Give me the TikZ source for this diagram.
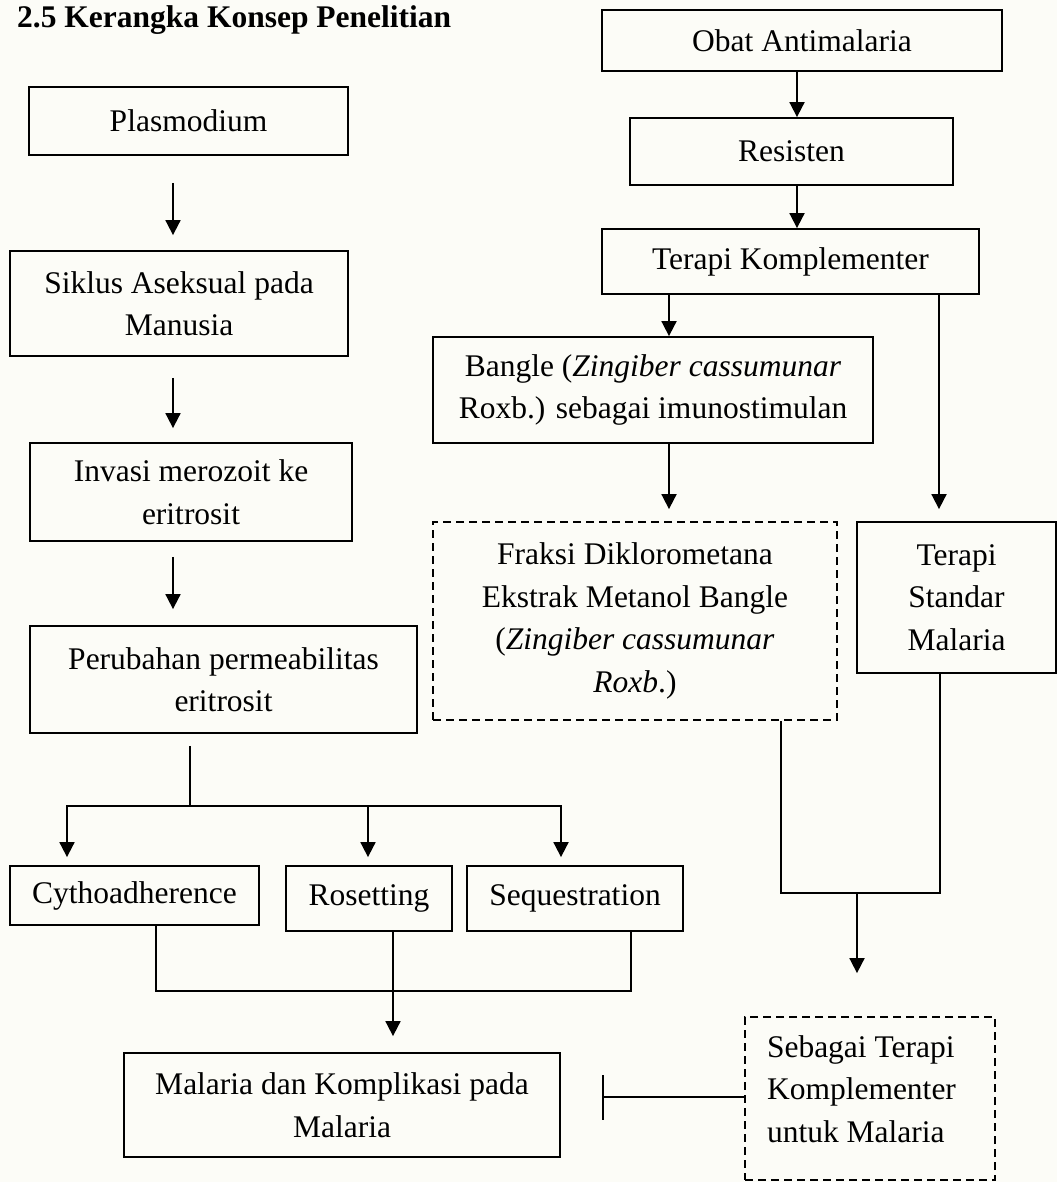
\documentclass[tikz,border=0pt]{standalone}
\usepackage{fontspec}
\setmainfont{Liberation Serif}
\usetikzlibrary{arrows.meta,calc}
\definecolor{bgc}{RGB}{252,252,247}
\begin{document}
\begin{tikzpicture}[x=1pt,y=-1pt,
  every node/.style={font=\fontsize{31.5}{42.5}\selectfont, inner sep=0pt},
  box/.style={draw, line width=1.8pt, align=center},
  dbox/.style={box, dash pattern=on 8pt off 5pt},
  arr/.style={line width=1.8pt, -{Triangle[width=15pt,length=15pt]}},
  ln/.style={line width=1.8pt},
]
\useasboundingbox (0,0) rectangle (1057,1182);
\fill[bgc] (0,0) rectangle (1057,1182);

\node[anchor=base west, font=\fontsize{31.5}{42.5}\selectfont\bfseries] (title) at (17,28) {2.5 Kerangka Konsep Penelitian};

% left column
\node[box, minimum width=319pt, minimum height=68pt] (plas) at (188.5,121) {Plasmodium};
\node[box, minimum width=338pt, minimum height=105pt] (sik) at (179,303.5) {Siklus Aseksual pada\\Manusia};
\node[box, minimum width=322pt, minimum height=98pt] (inv) at (191,492) {Invasi merozoit ke\\eritrosit};
\node[box, minimum width=387pt, minimum height=107pt] (per) at (223.5,679.5) {Perubahan permeabilitas\\eritrosit};

% right column
\node[box, minimum width=400pt, minimum height=61pt] (obat) at (802,40.5) {Obat Antimalaria};
\node[box, minimum width=323pt, minimum height=67pt] (res) at (791.5,151.5) {Resisten};
\node[box, minimum width=377pt, minimum height=65pt] (tk) at (790.5,261.5) {Terapi Komplementer};
\node[box, minimum width=440pt, minimum height=106pt] (bangle) at (653,390) {Bangle (\textit{Zingiber cassumunar}\\Roxb.) sebagai imunostimulan};
\node[dbox, minimum width=404pt, minimum height=198pt] (fraksi) at (635,621) {Fraksi Diklorometana\\Ekstrak Metanol Bangle\\(\textit{Zingiber cassumunar}\\\textit{Roxb}.)};
\node[box, minimum width=199pt, minimum height=151pt] (std) at (956.5,597.5) {Terapi\\Standar\\Malaria};

% bottom
\node[box, minimum width=249pt, minimum height=59pt] (cyt) at (134.5,895.5) {Cythoadherence};
\node[box, minimum width=166pt, minimum height=65pt] (ros) at (369,898.5) {Rosetting};
\node[box, minimum width=216pt, minimum height=65pt] (seq) at (575,898.5) {Sequestration};
\node[box, minimum width=436pt, minimum height=104pt] (mal) at (342,1105) {Malaria dan Komplikasi pada\\Malaria};
\node[dbox, minimum width=250pt, minimum height=163pt] (seb) at (870,1098.5) {};
\node[align=flush left, text width=206pt] (sebt) at (870,1089) {Sebagai Terapi\\Komplementer\\untuk Malaria};

% left arrows
\coordinate (cL) at (173,0);
\draw[arr, shorten <=27pt, shorten >=15pt] (plas.south -| cL) -- (sik.north -| cL);
\draw[arr, shorten <=21pt, shorten >=14pt] (sik.south -| cL) -- (inv.north -| cL);
\draw[arr, shorten <=15pt, shorten >=16pt] (inv.south -| cL) -- (per.north -| cL);

% right arrows
\coordinate (cR) at (797,0);
\draw[arr] (obat.south -| cR) -- (res.north -| cR);
\draw[arr] (res.south -| cR) -- (tk.north -| cR);
\coordinate (cB) at (669,0);
\draw[arr] (tk.south -| cB) -- (bangle.north -| cB);
\draw[arr, shorten >=12pt] (bangle.south -| cB) -- (fraksi.north -| cB);
\coordinate (cS) at (939,0);
\draw[arr, shorten >=12pt] (tk.south -| cS) -- (std.north -| cS);

% branching to three
\coordinate (pb) at (190,806);
\coordinate (b1) at (67,806);
\coordinate (b2) at (368,806);
\coordinate (b3) at (561,806);
\draw[ln, shorten <=12pt] (per.south -| pb) -- (pb);
\draw[arr, shorten >=8pt] (pb) -| (cyt.north -| b1);
\draw[arr, shorten >=8pt] (pb) -| (seq.north -| b3);
\draw[arr, shorten >=8pt] (b2) -- (ros.north -| b2);

% merging into Malaria
\coordinate (m1) at (156,991);
\coordinate (m3) at (631,991);
\coordinate (mx) at (393,0);
\draw[ln] (cyt.south -| m1) |- (m3) -- (seq.south -| m3);
\draw[arr, shorten >=16pt] (ros.south -| mx) -- (mal.north -| mx);

% Fraksi + Standar merge
\coordinate (f1) at (781,893);
\coordinate (f2) at (940,893);
\coordinate (fa) at (857,893);
\draw[ln] (fraksi.south -| f1) |- (f2) -- (std.south -| f2);
\draw[arr, shorten >=43pt] (fa) -- (seb.north -| fa);

% inhibition bar
\coordinate (tb) at (602,1097);
\draw[ln, -{Bar[width=45pt,line width=1.8pt]}] (seb.west |- tb) -- (tb);
\end{tikzpicture}
\end{document}
